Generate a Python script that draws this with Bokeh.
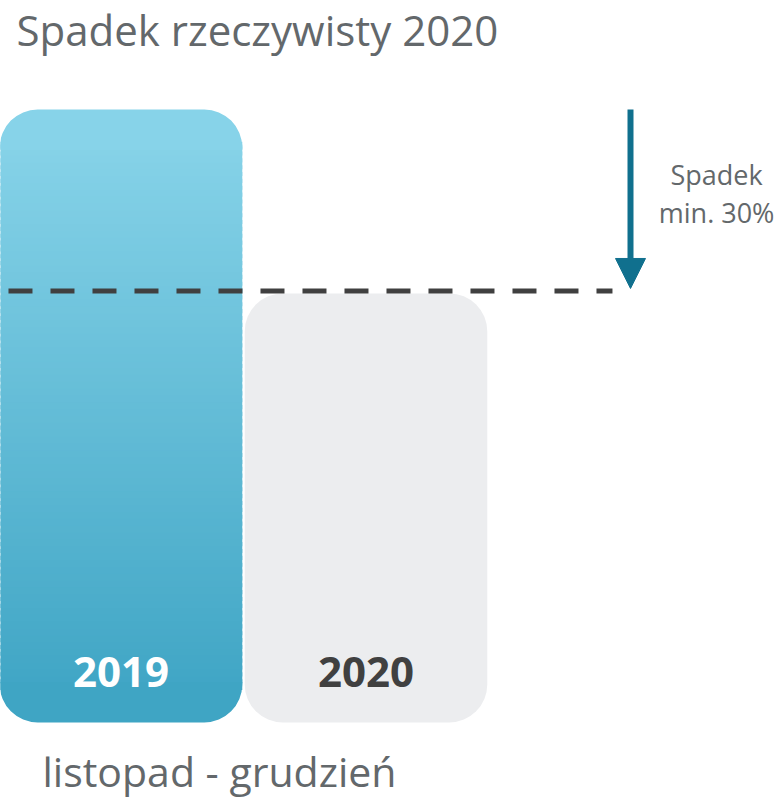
from bokeh.plotting import figure
from bokeh.models import Arrow, NormalHead, Range1d
from bokeh.core.properties import value
from bokeh.embed import file_html
from bokeh.resources import INLINE

# ---- data ----
categories = ["2019", "2020"]
values = [100, 70]
threshold = 70.4
arrow_top = 100
arrow_tip = 70.8
title_text = "Spadek rzeczywisty 2020"
xlabel_text = "listopad - grudzień"
note_lines = ["Spadek", "min. 30%"]

# ---- styles ----
TOP_RGB = (138, 213, 234)
BOT_RGB = (60, 163, 195)
GRAY_BAR = "#ecedef"
TEXT_GRAY = "#63686b"
DARK = "#404040"
ARROW_C = "#10708e"
FONT = value("Open Sans")
R = 38  # corner radius px
PX = 6.13  # px per data unit (vertical)

W, H = 776, 804
p = figure(width=W, height=H, output_backend="svg", toolbar_location=None,
           x_range=Range1d(-0.4918, 2.6755), y_range=Range1d(-13.38, 117.78),
           min_border=0)
p.axis.visible = False
p.grid.visible = False
p.outline_line_color = None
p.background_fill_color = "white"

bw = 0.99
xs = [0, 1]

def mix(t):
    r = [round(TOP_RGB[i] + (BOT_RGB[i] - TOP_RGB[i]) * t) for i in range(3)]
    return "#%02x%02x%02x" % tuple(r)

def up(fs):
    # baseline correction for svg text placement
    return 0.42 * fs / PX

# 2019 bar with vertical gradient (stacked slices)
v0 = values[0]
cap = 6.6  # data units, ~40px
left, right = xs[0] - bw / 2, xs[0] + bw / 2
N = 80
lo, hi = cap * 0.8, v0 - cap * 0.8
step = (hi - lo) / N
for i in range(N):
    b = lo + i * step
    t = b + step * 1.6
    mid = (b + step / 2)
    frac = 1 - mid / v0
    p.quad(left=left, right=right, bottom=b, top=min(t, hi), fill_color=mix(frac), line_color=None)
# top cap
p.quad(left=left, right=right, bottom=v0 - cap, top=v0, fill_color=mix(cap / 2 / v0),
       line_color=None, border_radius=(R, R, 0, 0))
# bottom cap
p.quad(left=left, right=right, bottom=0, top=cap, fill_color=mix(1 - cap / 2 / v0),
       line_color=None, border_radius=(0, 0, R, R))

# 2020 bar
p.quad(left=xs[1] - bw / 2, right=xs[1] + bw / 2, bottom=0, top=values[1],
       fill_color=GRAY_BAR, line_color=None, border_radius=R)

# dashed threshold line
p.line(x=[-0.4592, 2.006], y=[threshold, threshold], line_color=DARK,
       line_width=5, line_dash="24 18")

# arrow
ax = 2.0796
p.add_layout(Arrow(x_start=ax, y_start=arrow_top, x_end=ax, y_end=arrow_tip,
                   line_color=ARROW_C, line_width=6,
                   end=NormalHead(size=30, fill_color=ARROW_C, line_color=ARROW_C, line_width=1)))

# note text
p.text(x=[2.431, 2.431], y=[87.6 + up(27), 81.4 + up(27)], text=note_lines, text_font=FONT,
       text_font_size="27px", text_color=TEXT_GRAY, text_align="center",
       text_baseline="alphabetic")

# category labels inside bars
p.text(x=[xs[0]], y=[5.38 + up(42)], text=[categories[0]], text_font=FONT, text_font_size="42px",
       text_font_style="bold", text_color="white", text_align="center", text_baseline="alphabetic")
p.text(x=[xs[1]], y=[5.38 + up(42)], text=[categories[1]], text_font=FONT, text_font_size="42px",
       text_font_style="bold", text_color=DARK, text_align="center", text_baseline="alphabetic")

# title and bottom label
p.text(x=[-0.4265], y=[110.11 + up(42)], text=[title_text], text_font=FONT, text_font_size="42px",
       text_color=TEXT_GRAY, text_align="left", text_baseline="alphabetic")
p.text(x=[-0.3204], y=[-10.8 + up(41)], text=[xlabel_text], text_font=FONT, text_font_size="41px",
       text_color=TEXT_GRAY, text_align="left", text_baseline="alphabetic")

open("out.html", "w").write(file_html(p, INLINE))
